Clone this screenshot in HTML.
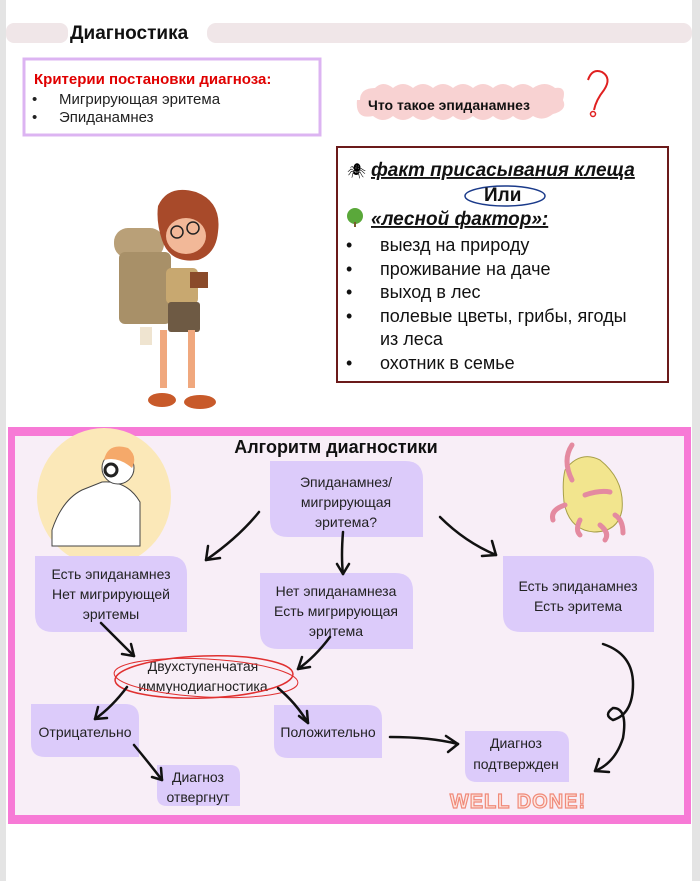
<!DOCTYPE html>
<html><head><meta charset="utf-8"><style>
html,body{margin:0;padding:0;background:#fff}
body{width:700px;height:881px;overflow:hidden;position:relative;font-family:"Liberation Sans",sans-serif}
</style></head><body>
<svg width="700" height="881" viewBox="0 0 700 881" xmlns="http://www.w3.org/2000/svg" style="position:absolute;left:0;top:0;font-family:'Liberation Sans',sans-serif">
<rect x="0" y="0" width="6" height="881" fill="#e4e4e4"/>
<rect x="692" y="0" width="8" height="881" fill="#e4e4e4"/>
<!-- header -->
<rect x="6" y="23" width="62" height="20" rx="8" fill="#f0e6e8"/>
<rect x="207" y="23" width="485" height="20" rx="9" fill="#f0e6e8"/>
<text x="70" y="34" font-size="19" font-weight="bold" fill="#111" dominant-baseline="middle">Диагностика</text>
<!-- criteria -->
<rect x="24" y="59" width="296" height="76" fill="#fff" stroke="#dcb4f2" stroke-width="3"/>
<text x="34" y="84" font-size="15" font-weight="bold" fill="#e00000">Критерии постановки диагноза:</text>
<text font-size="15" fill="#222" y="104"><tspan x="32">•</tspan><tspan x="59">Мигрирующая эритема</tspan></text>
<text font-size="15" fill="#222" y="122"><tspan x="32">•</tspan><tspan x="59">Эпиданамнез</tspan></text>
<!-- cloud -->
<path d="M360 100 q0 -12 15 -12 q8 -8 18 0 q10 -8 20 0 q10 -8 20 0 q10 -8 20 0 q10 -8 20 0 q10 -8 20 0 q10 -8 20 0 q10 -8 20 0 q12 -8 22 0 q12 -2 8 12 q5 10 -10 14 q-10 8 -20 2 q-10 8 -20 0 q-10 8 -20 0 q-10 8 -20 0 q-10 8 -20 0 q-10 8 -20 0 q-10 8 -20 0 q-10 8 -20 0 q-10 8 -20 0 q-18 4 -16 -16z" fill="#f8d2d2"/>
<text x="368" y="110" font-size="14" font-weight="bold" fill="#111">Что такое эпиданамнез</text>
<path d="M588 80 q4 -12 14 -8 q10 6 2 18 q-8 10 -10 20" fill="none" stroke="#e02020" stroke-width="2"/>
<circle cx="593" cy="114" r="2.5" fill="none" stroke="#e02020" stroke-width="1.5"/>
<!-- right box -->
<rect x="337" y="147" width="331" height="235" fill="#fff" stroke="#6b1a1a" stroke-width="2"/>
<text x="347" y="176" font-size="15">🕷</text>
<text x="371" y="176" font-size="19" font-weight="bold" font-style="italic" text-decoration="underline" fill="#111">факт присасывания клеща</text>
<ellipse cx="505" cy="196" rx="40" ry="10" fill="none" stroke="#1a3a8a" stroke-width="1.5"/>
<text x="484" y="201" font-size="19" font-weight="bold" fill="#111">Или</text>
<circle cx="355" cy="216" r="8" fill="#5aa83a"/>
<rect x="354" y="222" width="2" height="5" fill="#7a5a30"/>
<text x="371" y="225" font-size="19" font-weight="bold" font-style="italic" text-decoration="underline" fill="#111">«лесной фактор»:</text>
<g font-size="18" fill="#111">
<text x="346" y="251">•</text><text x="380" y="251">выезд на природу</text>
<text x="346" y="275">•</text><text x="380" y="275">проживание на даче</text>
<text x="346" y="298">•</text><text x="380" y="298">выход в лес</text>
<text x="346" y="322">•</text><text x="380" y="322">полевые цветы, грибы, ягоды</text>
<text x="380" y="345">из леса</text>
<text x="346" y="369">•</text><text x="380" y="369">охотник в семье</text>
</g>
<!-- girl -->
<g>
<rect x="114" y="228" width="50" height="30" rx="14" fill="#b9a078"/>
<rect x="119" y="252" width="52" height="72" rx="6" fill="#a89068"/>
<path d="M158 206 q10 -22 38 -14 q26 10 22 40 q-2 22 -20 28 q-28 4 -36 -20 q-6 -18 -4 -34z" fill="#a84a2a"/>
<ellipse cx="186" cy="236" rx="20" ry="18" fill="#f2b898"/>
<circle cx="177" cy="232" r="6" fill="none" stroke="#222" stroke-width="1.5"/>
<circle cx="193" cy="228" r="6" fill="none" stroke="#222" stroke-width="1.5"/>
<rect x="166" y="268" width="32" height="36" rx="5" fill="#c8a870"/>
<rect x="190" y="272" width="18" height="16" fill="#8a4a2a"/>
<rect x="168" y="302" width="32" height="30" rx="3" fill="#6e5a44"/>
<rect x="160" y="330" width="7" height="58" fill="#f0a87e"/>
<rect x="188" y="330" width="7" height="58" fill="#f0a87e"/>
<ellipse cx="162" cy="400" rx="14" ry="7" fill="#c85a2a"/>
<ellipse cx="200" cy="402" rx="16" ry="7" fill="#c85a2a"/>
<rect x="140" y="327" width="12" height="18" fill="#efe4d0"/>
</g>
<!-- bottom frame -->
<rect x="8" y="430" width="683" height="392" fill="#f8eef7"/>
<rect x="8" y="427" width="683" height="9" fill="#f77ad6"/>
<rect x="8" y="815" width="683" height="9" fill="#f77ad6"/>
<rect x="8" y="427" width="7" height="397" fill="#f77ad6"/>
<rect x="684" y="427" width="7" height="397" fill="#f77ad6"/>
<text x="336" y="453" font-size="18" font-weight="bold" text-anchor="middle" fill="#111">Алгоритм диагностики</text>
<!-- person -->
<ellipse cx="104" cy="497" rx="67" ry="69" fill="#fbe8b8"/>
<path d="M52 530 q10 -30 30 -40 l20 -8 q25 -2 38 20 l0 44 h-88z" fill="#fff" stroke="#444" stroke-width="1"/>
<circle cx="118" cy="468" r="16" fill="#fff" stroke="#444"/>
<path d="M104 460 q4 -18 24 -12 q10 8 4 20 q-14 -12 -28 -8z" fill="#f5a96a"/>
<circle cx="111" cy="470" r="6" fill="#fff" stroke="#222" stroke-width="3"/>
<!-- bug -->
<path d="M565 470 q15 -20 35 -10 q25 20 22 50 q-4 22 -28 22 q-25 -2 -30 -30 q-2 -20 1 -32z" fill="#f2e58e" stroke="#a8a04a"/>
<g stroke="#e48aa0" stroke-width="5" fill="none" stroke-linecap="round">
<path d="M572 480 q-10 -20 0 -35"/><path d="M565 505 q-15 5 -12 15"/><path d="M580 520 q-5 10 0 15"/><path d="M600 525 q10 8 5 15"/><path d="M585 495 q15 -5 25 -3"/><path d="M615 515 q8 5 8 18"/>
</g>
<!-- boxes -->
<g fill="#dccbfa">
<path d="M270 461 h135 q18 0 18 18 v58 h-135 q-18 0 -18 -18z"/>
<path d="M35 556 h134 q18 0 18 18 v58 h-134 q-18 0 -18 -18z"/>
<path d="M260 573 h135 q18 0 18 18 v58 h-135 q-18 0 -18 -18z"/>
<path d="M503 556 h133 q18 0 18 18 v58 h-133 q-18 0 -18 -18z"/>
<path d="M31 704 h94 q14 0 14 14 v39 h-94 q-14 0 -14 -14z"/>
<path d="M274 705 h94 q14 0 14 14 v39 h-94 q-14 0 -14 -14z"/>
<path d="M465 731 h92 q12 0 12 12 v39 h-92 q-12 0 -12 -12z"/>
<path d="M157 765 h73 q10 0 10 10 v31 h-73 q-10 0 -10 -10z"/>
</g>
<g font-size="14" fill="#222" text-anchor="middle">
<text x="346" y="487">Эпиданамнез/</text><text x="346" y="507">мигрирующая</text><text x="346" y="527">эритема?</text>
<text x="111" y="579">Есть эпиданамнез</text><text x="111" y="599">Нет мигрирующей</text><text x="111" y="619">эритемы</text>
<text x="336" y="596">Нет эпиданамнеза</text><text x="336" y="616">Есть мигрирующая</text><text x="336" y="636">эритема</text>
<text x="578" y="591">Есть эпиданамнез</text><text x="578" y="611">Есть эритема</text>
<text x="203" y="671">Двухступенчатая</text><text x="203" y="691">иммунодиагностика</text>
<text x="85" y="737">Отрицательно</text>
<text x="328" y="737">Положительно</text>
<text x="516" y="748">Диагноз</text><text x="516" y="769">подтвержден</text>
<text x="198" y="782">Диагноз</text><text x="198" y="802">отвергнут</text>
</g>
<ellipse cx="204" cy="677" rx="89" ry="21" fill="none" stroke="#e03030" stroke-width="1.5" transform="rotate(-2 204 677)"/>
<ellipse cx="206" cy="678" rx="92" ry="19" fill="none" stroke="#e03030" stroke-width="1" transform="rotate(3 206 678)"/>
<!-- arrows -->
<g stroke="#111" stroke-width="2.5" fill="none" stroke-linecap="round">
<path d="M259 512 q-20 25 -53 48"/><path d="M206 560 l2 -14 M206 560 l14 -2"/>
<path d="M343 532 q-2 25 0 42"/><path d="M343 574 l-6 -10 M343 574 l6 -10"/>
<path d="M440 517 q25 25 56 38"/><path d="M496 555 l-4 -14 M496 555 l-14 1"/>
<path d="M101 623 q15 15 33 33"/><path d="M134 656 l-3 -12 M134 656 l-12 -2"/>
<path d="M330 637 q-15 20 -32 32"/><path d="M298 669 l4 -12 M298 669 l12 -2"/>
<path d="M127 687 q-15 20 -32 32"/><path d="M95 719 l3 -12 M95 719 l12 -1"/>
<path d="M278 688 q18 15 30 35"/><path d="M308 723 l-1 -12 M308 723 l-9 -7"/>
<path d="M134 745 q15 18 28 35"/><path d="M162 780 l-1 -12 M162 780 l-10 -3"/>
<path d="M390 737 q40 0 68 7"/><path d="M458 744 l-12 -8 M458 744 l-10 8"/>
<path d="M603 644 q30 10 30 40 q0 30 -20 36 q-10 -5 0 -12 q15 0 10 30 q-8 25 -28 33"/><path d="M595 771 l4 -12 M595 771 l14 1"/>
</g>
<text x="518" y="808" font-size="20" font-weight="bold" text-anchor="middle" fill="#fde6e0" stroke="#f08a7a" stroke-width="1.2" letter-spacing="1">WELL DONE!</text>
</svg>
</body></html>
